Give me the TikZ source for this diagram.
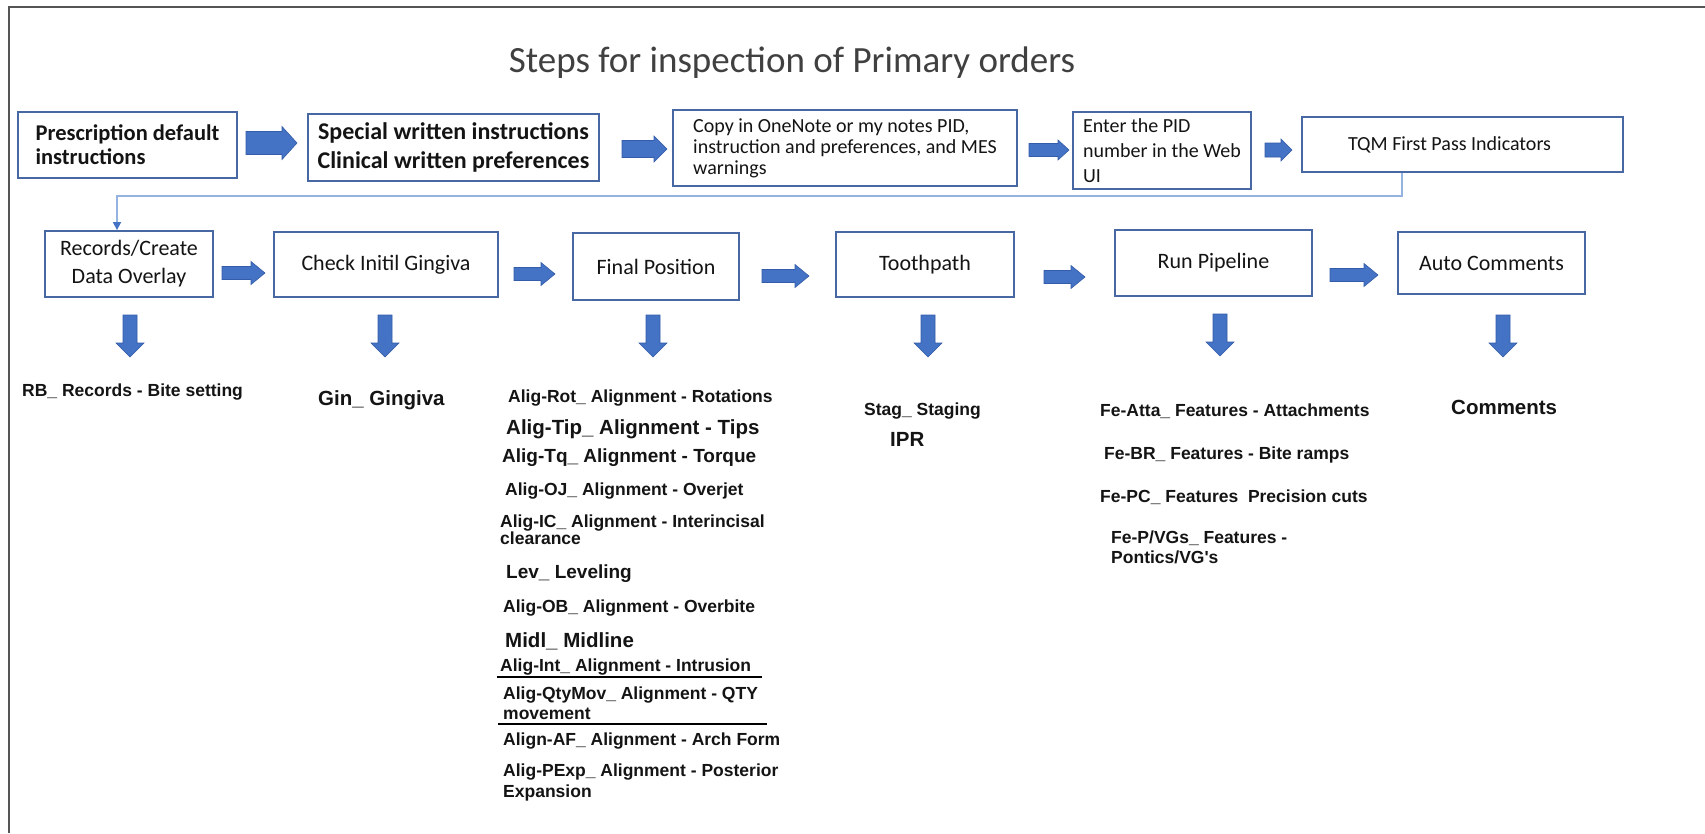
\documentclass[tikz,border=0pt]{standalone}
\usepackage{fontspec}
\setmainfont{Carlito}
\newfontfamily\arialf{Liberation Sans}
\usetikzlibrary{arrows.meta}

\definecolor{boxline}{RGB}{72,104,164}
\definecolor{arrowfill}{RGB}{68,114,196}
\definecolor{arrowedge}{RGB}{52,92,168}
\definecolor{connline}{RGB}{150,178,225}
\definecolor{framegray}{RGB}{85,85,85}
\definecolor{titlegray}{RGB}{64,64,64}
\definecolor{ink}{RGB}{20,20,20}

% right-pointing block arrow: x from #1 to #2 at height #3,
% shaft half-height #4, head half-height #5, head length #6
\newcommand{\harrow}[6]{%
  \filldraw[blockarrow] (#1,#3-#4) -- (#2-#6,#3-#4) -- (#2-#6,#3-#5) -- (#2,#3)
    -- (#2-#6,#3+#5) -- (#2-#6,#3+#4) -- (#1,#3+#4) -- cycle;}
% downward block arrow in column #1, from y #2 to y #3
\newcommand{\varrow}[3]{%
  \filldraw[blockarrow] (#1-7,#2) -- (#1+7,#2) -- (#1+7,#3-14) -- (#1+14,#3-14)
    -- (#1,#3) -- (#1-14,#3-14) -- (#1-7,#3-14) -- cycle;}

\begin{document}
\begin{tikzpicture}[x=1pt, y=-1pt, line join=miter,
  box/.style={draw=boxline, line width=1.8pt, fill=white, inner sep=0pt, text=ink},
  blockarrow/.style={fill=arrowfill, draw=arrowedge, line width=0.6pt},
  conn/.style={draw=connline, line width=1.6pt},
  item/.style={anchor=base west, inner sep=0pt, text=ink,
    font=\arialf\bfseries\fontsize{17.5}{18}\selectfont},
  miditem/.style={item, font=\arialf\bfseries\fontsize{19}{20}\selectfont},
  bigitem/.style={item, font=\arialf\bfseries\fontsize{20.5}{22}\selectfont},
  rule/.style={draw=black, line width=1.8pt}]

\useasboundingbox (0,0) rectangle (1705,833);
\fill[white] (0,0) rectangle (1705,833);

% page frame (left and top edges)
\draw[framegray, line width=2.6pt] (9,833) -- (9,7) -- (1705,7);

% title
\node[font=\fontsize{37}{40}\selectfont, text=titlegray, anchor=base, inner sep=0pt]
  (title) at (792,72) {Steps for inspection of Primary orders};

% first row of steps
\node[box, minimum width=219pt, minimum height=66pt, align=left,
  font=\bfseries\fontsize{22.5}{24}\selectfont] (b1) at (127.5,145)
  {Prescription default\\instructions};
\node[box, minimum width=291pt, minimum height=67pt, align=center,
  font=\bfseries\fontsize{24}{29}\selectfont] (b2) at (453.5,147.5)
  {Special written instructions\\Clinical written preferences};
\node[box, minimum width=344pt, minimum height=76pt, align=left,
  font=\fontsize{20}{21}\selectfont] (b3) at (845,148)
  {Copy in OneNote or my notes PID,\\instruction and preferences, and MES\\warnings};
\node[box, minimum width=178pt, minimum height=77pt, align=left,
  font=\fontsize{20}{25}\selectfont] (b4) at (1162,150.5)
  {Enter the PID\\number in the Web\\UI};
\node[box, minimum width=321pt, minimum height=55pt,
  font=\fontsize{20}{22}\selectfont] (b5) at (1462.5,144.5)
  {TQM First Pass Indicators\hspace*{26pt}};

\harrow{246}{297}{143}{11.5}{16.5}{15}
\harrow{622}{667}{149}{8.5}{13}{13}
\harrow{1029}{1069}{150}{6.5}{10}{11}
\harrow{1265}{1292}{150}{7}{11}{11}

% second row of steps
\node[box, minimum width=168pt, minimum height=66pt, align=center,
  font=\fontsize{22}{28}\selectfont] (b6) at (129,264) {Records/Create\\Data Overlay};
\node[box, minimum width=224pt, minimum height=65pt,
  font=\fontsize{22}{26}\selectfont] (b7) at (386,264.5) {Check Initil Gingiva};
\node[box, minimum width=166pt, minimum height=67pt,
  font=\fontsize{22}{26}\selectfont] (b8) at (656,266.5) {Final Position};
\node[box, minimum width=178pt, minimum height=65pt,
  font=\fontsize{22}{26}\selectfont] (b9) at (925,264.5) {Toothpath};
\node[box, minimum width=197pt, minimum height=66pt,
  font=\fontsize{22}{26}\selectfont] (b10) at (1213.5,263) {Run Pipeline};
\node[box, minimum width=187pt, minimum height=62pt,
  font=\fontsize{22}{26}\selectfont] (b11) at (1491.5,263) {Auto Comments};

\harrow{222}{265}{273}{6.5}{11.5}{14}
\harrow{514}{555}{274}{6.5}{11.5}{14}
\harrow{762}{809}{276}{6.5}{11.5}{14}
\harrow{1044}{1085}{277}{6.5}{11.5}{14}
\harrow{1330}{1378}{275}{6.5}{11.5}{14}

% link from the end of the first row to the start of the second
\coordinate (k1) at (1402,196);
\coordinate (k2) at (117,196);
\draw[conn, -{Triangle[length=8pt,width=8pt,color=arrowfill]}]
  (b5.south -| k1) -- (k1) -- (k2) -- (b6.north -| k2);

% arrows down to the check lists
\varrow{130}{315}{357}
\varrow{385}{315}{357}
\varrow{653}{315}{357}
\varrow{928}{315}{357}
\varrow{1220}{314}{356}
\varrow{1503}{315}{357}

% check lists
\node[item] (rb) at (22,396) {RB\_ Records - Bite setting};
\node[bigitem] (gin) at (318,405) {Gin\_ Gingiva};

\node[item] (rot) at (508,402) {Alig-Rot\_ Alignment - Rotations};
\node[bigitem] (tip) at (506,434) {Alig-Tip\_ Alignment - Tips};
\node[miditem] (tq) at (502,462) {Alig-Tq\_ Alignment - Torque};
\node[item] (oj) at (505,495) {Alig-OJ\_ Alignment - Overjet};
\node[item] (ic) at (500,527) {Alig-IC\_ Alignment - Interincisal};
\node[item] (ic2) at (500,544) {clearance};
\node[miditem] (lev) at (506,578) {Lev\_ Leveling};
\node[item] (ob) at (503,612) {Alig-OB\_ Alignment - Overbite};
\node[bigitem] (midl) at (505,647) {Midl\_ Midline};
\node[item] (int) at (500,671) {Alig-Int\_ Alignment - Intrusion};
\draw[rule] (497,677) -- (762,677);
\node[item] (qty) at (503,699) {Alig-QtyMov\_ Alignment - QTY};
\node[item] (qty2) at (503,719) {movement};
\draw[rule] (498,724) -- (767,724);
\node[item] (af) at (503,745) {Align-AF\_ Alignment - Arch Form};
\node[item] (pexp) at (503,776) {Alig-PExp\_ Alignment - Posterior};
\node[item] (pexp2) at (503,797) {Expansion};

\node[item] (stag) at (864,415) {Stag\_ Staging};
\node[bigitem] (ipr) at (890,446) {IPR};

\node[item] (atta) at (1100,416) {Fe-Atta\_ Features - Attachments};
\node[item] (br) at (1104,459) {Fe-BR\_ Features - Bite ramps};
\node[item] (pc) at (1100,502) {Fe-PC\_ Features\ \ Precision cuts};
\node[item] (pvg) at (1111,543) {Fe-P/VGs\_ Features -};
\node[item] (pvg2) at (1111,563) {Pontics/VG's};

\node[bigitem] (comm) at (1451,414) {Comments};

\end{tikzpicture}
\end{document}
